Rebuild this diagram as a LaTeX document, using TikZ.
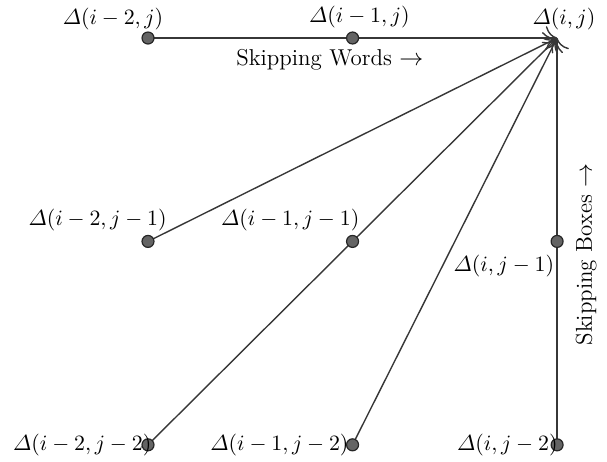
\documentclass[tikz,border=0pt]{standalone}
\usepackage{amsmath}
\usepackage{amssymb}
\usepackage{xcolor}
\usepackage{tikz}
\usetikzlibrary{arrows.meta, positioning, calc, backgrounds}
\definecolor{dotgray}{RGB}{100, 100, 100}
\definecolor{linegray}{RGB}{55, 55, 55}

\begin{document}
\begin{tikzpicture}[
    cell/.style={circle, draw=black!85, fill=dotgray, line width=0.6pt, inner sep=0pt, minimum size=6pt},
    lbl/.style={font=\fontsize{10.8}{13}\selectfont, inner sep=1pt},
    link/.style={-{To[scale=1.8]}, line width=0.7pt, draw=linegray},
    caption/.style={font=\fontsize{11.5}{13}\selectfont}
]
    \useasboundingbox (-2.605,-7.445) rectangle (8.078,0.669);

    % Grid of cells
    \coordinate (d00) at (7.2,0);
    \node[cell] (d10) at (3.6,0) {};
    \node[cell] (d20) at (0,0) {};
    \node[cell] (d01) at (7.2,-3.58) {};
    \node[cell] (d11) at (3.6,-3.58) {};
    \node[cell] (d21) at (0,-3.58) {};
    \node[cell] (d02) at (7.2,-7.16) {};
    \node[cell] (d12) at (3.6,-7.16) {};
    \node[cell] (d22) at (0,-7.16) {};

    % Connectors
    \begin{scope}[on background layer]
        \draw[link] (d20.center) -- (d00);
        \draw[link] (d21.center) -- (d00);
        \draw[link] (d22.center) -- (d00);
        \draw[link] (d12.center) -- (d00);
        \draw[link] (d02.center) -- (d00);
    \end{scope}

    % Labels
    \node[lbl, anchor=south] (l00) at ($(d00)+(0.12,0.1)$) {$\varDelta(i,j)$};
    \node[lbl, anchor=south] (l10) at ($(d10)+(0.12,0.14)$) {$\varDelta(i-1,j)$};
    \node[lbl, anchor=south east] (l20) at ($(d20)+(0.31,0.1)$) {$\varDelta(i-2,j)$};
    \node[lbl, anchor=north east] (l01) at ($(d01)+(-0.01,-0.2)$) {$\varDelta(i,j-1)$};
    \node[lbl, anchor=south east] (l11) at ($(d11)+(0.16,0.15)$) {$\varDelta(i-1,j-1)$};
    \node[lbl, anchor=south east] (l21) at ($(d21)+(0.37,0.15)$) {$\varDelta(i-2,j-1)$};
    \node[lbl, anchor=east] (l02) at ($(d02)+(0.05,0)$) {$\varDelta(i,j-2)$};
    \node[lbl, anchor=east] (l12) at ($(d12)+(-0.03,0)$) {$\varDelta(i-1,j-2)$};
    \node[lbl, anchor=east] (l22) at ($(d22)+(0.1,0)$) {$\varDelta(i-2,j-2)$};

    % Axis captions
    \node[caption] (words) at ($(d10)+(-0.4,-0.38)$) {Skipping Words $\rightarrow$};
    \node[caption, rotate=90] (boxes) at ($(d01)+(0.51,-0.23)$) {Skipping Boxes $\rightarrow$};
\end{tikzpicture}
\end{document}
